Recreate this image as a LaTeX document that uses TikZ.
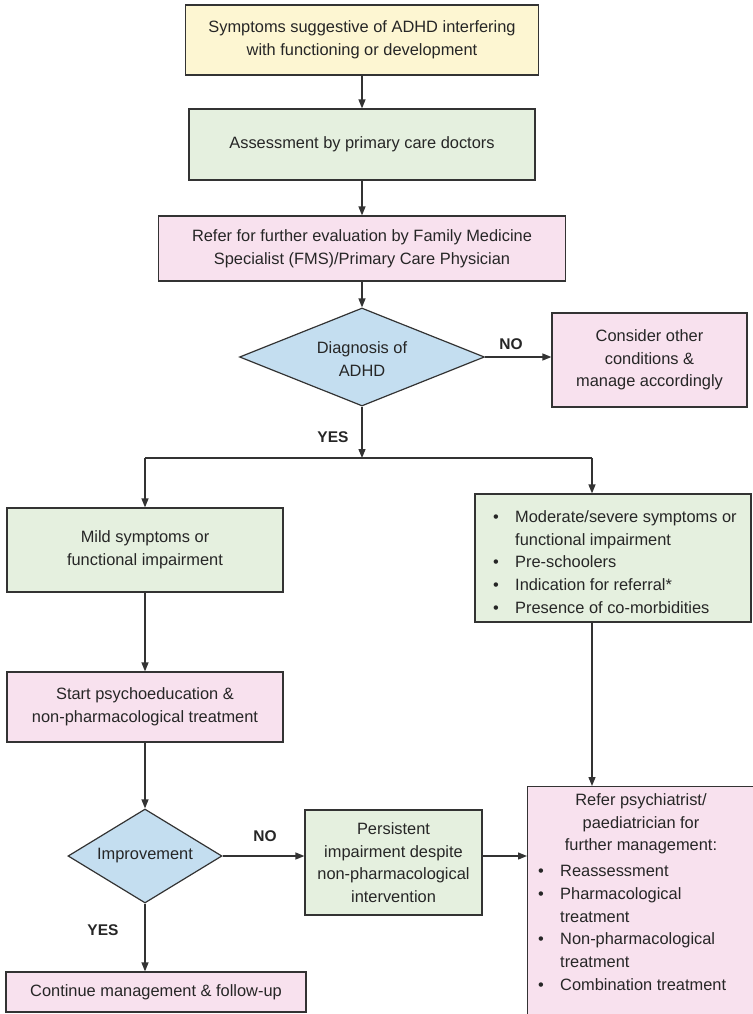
\documentclass[tikz,border=0pt]{standalone}
\usepackage{fontspec}
\setmainfont{Liberation Sans}
\usetikzlibrary{shapes.geometric,arrows.meta}
\definecolor{yel}{HTML}{FDF6D2}
\definecolor{grn}{HTML}{E5F0DF}
\definecolor{pnk}{HTML}{F8E1EE}
\definecolor{blu}{HTML}{C4DEF0}
\definecolor{lc}{HTML}{333333}
\definecolor{tc}{HTML}{262626}
\newcommand\bitem[1]{\makebox[22pt][l]{\textbullet}#1}
\newcommand\bcont[1]{\hspace*{22pt}#1}
\begin{document}
\begin{tikzpicture}[x=1pt,y=-1pt,
  txt/.style={align=center, inner sep=0pt, text=tc, font=\fontsize{16.4}{22.7}\selectfont},
  box/.style={txt, draw=lc, line width=1.2pt},
  dia/.style={diamond, draw=lc, fill=blu, line width=1.2pt, inner sep=0pt},
  arr/.style={draw=lc, line width=1.3pt, -{Triangle[length=9pt,width=7pt]}},
  ln/.style={draw=lc, line width=1.3pt},
  lbl/.style={inner sep=0pt, text=tc, font=\bfseries\fontsize{15.5}{18}\selectfont}]
\useasboundingbox (0,0) rectangle (752,1014);
\node[box, fill=yel, minimum width=353pt, minimum height=70pt] (sym) at (362,40) {Symptoms suggestive of ADHD interfering\\with functioning or development};
\node[box, fill=grn, minimum width=346pt, minimum height=71pt] (assess) at (362,144.5) {Assessment by primary care doctors};
\node[box, fill=pnk, minimum width=407pt, minimum height=65pt] (fms) at (362,248.5) {Refer for further evaluation by Family Medicine\\Specialist (FMS)/Primary Care Physician};
\node[dia, minimum width=245pt, minimum height=98pt] (diag) at (362,357) {};
\node[txt] (diagtext) at (362,359) {Diagnosis of\\ADHD};
\node[box, fill=pnk, minimum width=195pt, minimum height=94pt] (other) at (649.5,360) {Consider other\\conditions \&\\manage accordingly};
\coordinate (split) at (362,458);
\coordinate (splitL) at (145,458);
\coordinate (splitR) at (592,458);
\node[box, fill=grn, minimum width=276pt, minimum height=84pt] (mild) at (145,550) {Mild symptoms or\\functional impairment};
\node[box, fill=grn, minimum width=276pt, minimum height=128pt] (mod) at (613,558) {};
\node[txt, align=left, anchor=west] (modtext) at (493,562) {\bitem{Moderate/severe symptoms or}\\\bcont{functional impairment}\\\bitem{Pre-schoolers}\\\bitem{Indication for referral*}\\\bitem{Presence of co-morbidities}};
\node[box, fill=pnk, minimum width=276pt, minimum height=70pt] (start) at (145,707) {Start psychoeducation \&\\non-pharmacological treatment};
\node[dia, minimum width=154pt, minimum height=94pt] (imp) at (145,856) {};
\node[txt] (imptext) at (145,856) {Improvement};
\node[box, fill=grn, minimum width=177pt, minimum height=105pt] (persist) at (393.5,862.5) {Persistent\\impairment despite\\non-pharmacological\\intervention};
\node[box, fill=pnk, minimum width=300pt, minimum height=40pt] (cont) at (156,992) {Continue management \& follow-up};
\node[box, fill=pnk, minimum width=240pt, minimum height=240pt, anchor=north west] (refer) at (527,786) {};
\node[txt] (refhead) at (641,824) {Refer psychiatrist/\\paediatrician for\\further management:};
\node[txt, align=left, anchor=west] (reflist) at (538,928) {\bitem{Reassessment}\\\bitem{Pharmacological}\\\bcont{treatment}\\\bitem{Non-pharmacological}\\\bcont{treatment}\\\bitem{Combination treatment}};
\draw[arr] (sym.south) -- (assess.north);
\draw[arr] (assess.south) -- (fms.north);
\draw[arr] (fms.south) -- (diag.north);
\draw[arr] (diag.east) -- (diag.east -| other.west);
\draw[arr] (diag.south) -- (split);
\draw[ln] (splitL) -- (splitR);
\draw[arr] (splitL) -- (mild.north);
\draw[arr] (splitR) -- (splitR |- mod.north);
\draw[arr] (mild.south) -- (start.north);
\draw[arr] (start.south) -- (imp.north);
\draw[arr] (imp.east) -- (imp.east -| persist.west);
\draw[arr] (imp.south) -- (imp.south |- cont.north);
\draw[arr] (persist.east |- imp.east) -- (imp.east -| refer.west);
\draw[arr] (splitR |- mod.south) -- (splitR |- refer.north);
\node[lbl] (no1) at (511,344) {NO};
\node[lbl] (yes1) at (333,437) {YES};
\node[lbl] (no2) at (265,836) {NO};
\node[lbl] (yes2) at (103,930) {YES};
\end{tikzpicture}
\end{document}
